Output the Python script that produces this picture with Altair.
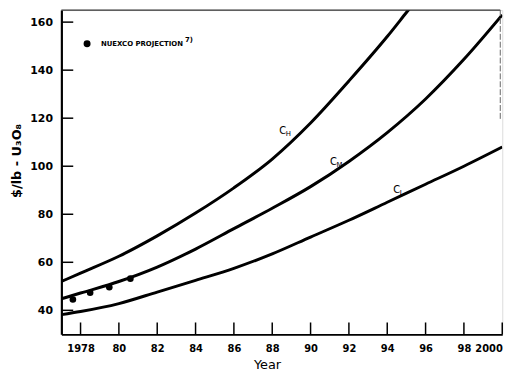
import altair as alt
import pandas as pd

# ---- data ----
years_h = [1977, 1978, 1980, 1982, 1984, 1986, 1988, 1990, 1992, 1994, 1995, 1995.6]
vals_h = [52, 55.5, 62.5, 71, 80.5, 91, 103, 118, 135.5, 154, 164, 170]

years_m = [1977, 1978, 1980, 1982, 1984, 1986, 1988, 1990, 1992, 1994, 1996, 1998, 2000]
vals_m = [44.8, 47.2, 52, 58, 65.5, 74, 82.5, 91.5, 102, 114, 128, 144.5, 163]

years_l = [1977, 1978, 1980, 1982, 1984, 1986, 1988, 1990, 1992, 1994, 1996, 1998, 2000]
vals_l = [38.2, 39.5, 42.8, 47.6, 52.5, 57.5, 63.5, 70.5, 77.5, 85, 92.5, 100, 108]

nuexco_years = [1977.6, 1978.5, 1979.5, 1980.6]
nuexco_vals = [44.5, 47.3, 49.6, 53.2]

label_main = ["C", "C", "C"]
label_sub = ["H", "M", "L"]
label_years = [1988.55, 1991.2, 1994.5]
label_vals = [114.8, 101.7, 90.2]

x_tick_values = [1978, 1980, 1982, 1984, 1986, 1988, 1990, 1992, 1994, 1996, 1998, 2000]
x_tick_labels = ["1978", "80", "82", "84", "86", "88", "90", "92", "94", "96", "98", "2000"]
y_tick_values = [40, 60, 80, 100, 120, 140, 160]

W, H = 446, 328
FONT = "DejaVu Sans"

# ---- tables ----
lines = pd.DataFrame(
    [{"series": "CH", "year": y, "value": v} for y, v in zip(years_h, vals_h)]
    + [{"series": "CM", "year": y, "value": v} for y, v in zip(years_m, vals_m)]
    + [{"series": "CL", "year": y, "value": v} for y, v in zip(years_l, vals_l)]
)
pts = pd.DataFrame({"year": nuexco_years, "value": nuexco_vals})
labels = pd.DataFrame({"year": label_years, "value": label_vals,
                       "main": label_main, "sub": label_sub})
xticks = pd.DataFrame({"year": x_tick_values})
yticks = pd.DataFrame({"value": y_tick_values})
one = pd.DataFrame({"k": [0]})

label_expr = ""
for v, l in zip(x_tick_values, x_tick_labels):
    label_expr += f"datum.value == {v} ? '{l}' : "
label_expr += "''"

xscale = alt.Scale(domain=[1977, 2000], nice=False, zero=False)
yscale = alt.Scale(domain=[30, 165], nice=False, zero=False)

xaxis = alt.Axis(values=x_tick_values, labelExpr=label_expr, ticks=False,
                 grid=False, labelPadding=9, labelFont=FONT, labelFontSize=10,
                 labelFontWeight="bold", labelColor="black",
                 domainColor="black", domainWidth=1.6,
                 title="Year", titleFont=FONT, titleFontSize=13,
                 titleFontWeight="normal", titleColor="black",
                 titleX=208, titlePadding=6)
yaxis = alt.Axis(values=y_tick_values, ticks=False, grid=False, labelPadding=9,
                 labelFont=FONT, labelFontSize=11, labelFontWeight="bold",
                 labelColor="black", domainColor="black", domainWidth=2.2,
                 title="$/lb - U₃O₈", titleFont=FONT, titleFontSize=13,
                 titleFontWeight="bold", titleColor="black",
                 titleX=-45, titleY=152, titleAngle=-90, titleAlign="center",
                 titleBaseline="middle")

base = alt.Chart(lines)

curves = base.mark_line(color="black", strokeWidth=3, interpolate="monotone",
                        clip=True).encode(
    x=alt.X("year:Q", scale=xscale, axis=xaxis),
    y=alt.Y("value:Q", scale=yscale, axis=yaxis),
    detail="series:N",
)

dots = alt.Chart(pts).mark_circle(color="black", opacity=1, size=45).encode(
    x=alt.X("year:Q", scale=xscale), y=alt.Y("value:Q", scale=yscale))

lab_main = alt.Chart(labels).mark_text(font=FONT, fontSize=10, color="black",
                                       align="center", baseline="middle").encode(
    x=alt.X("year:Q", scale=xscale), y=alt.Y("value:Q", scale=yscale),
    text="main:N")
lab_sub = alt.Chart(labels).mark_text(font=FONT, fontSize=7, color="black",
                                      align="left", baseline="middle",
                                      dx=3, dy=3).encode(
    x=alt.X("year:Q", scale=xscale), y=alt.Y("value:Q", scale=yscale),
    text="sub:N")

xtick_marks = alt.Chart(xticks).mark_rule(color="black", strokeWidth=1.5).encode(
    x=alt.X("year:Q", scale=xscale), y=alt.value(H), y2=alt.value(H - 12))
ytick_marks = alt.Chart(yticks).mark_rule(color="black", strokeWidth=1.5).encode(
    y=alt.Y("value:Q", scale=yscale), x=alt.value(0), x2=alt.value(12))

top_line = alt.Chart(one).mark_rule(color="#333", strokeWidth=1.2).encode(
    x=alt.value(0), x2=alt.value(W - 2), y=alt.value(0))
right_line = alt.Chart(one).mark_rule(color="#666", strokeWidth=1,
                                      strokeDash=[6, 2]).encode(
    x=alt.value(W - 2), y=alt.value(0), y2=alt.value(112))

legend_dot = alt.Chart(one).mark_circle(color="black", opacity=1, size=50).encode(
    x=alt.value(26), y=alt.value(34))
legend_text = alt.Chart(one).mark_text(text="NUEXCO PROJECTION", font=FONT,
                                       fontSize=7, fontWeight="bold",
                                       color="black", align="left",
                                       baseline="middle").encode(
    x=alt.value(40), y=alt.value(34))
legend_sup = alt.Chart(one).mark_text(text="7)", font=FONT, fontSize=7,
                                      fontWeight="bold", color="black",
                                      align="left", baseline="middle").encode(
    x=alt.value(125), y=alt.value(30))

chart = alt.layer(
    curves, dots, lab_main, lab_sub, xtick_marks, ytick_marks,
    top_line, right_line, legend_dot, legend_text, legend_sup,
).properties(
    width=W, height=H,
    padding={"left": 54, "top": 0, "right": 22, "bottom": 40},
    autosize=alt.AutoSizeParams(type="none"),
).configure_view(stroke=None).configure(background="white")

chart.save("out.html", embed_options={"renderer": "svg", "actions": False})
